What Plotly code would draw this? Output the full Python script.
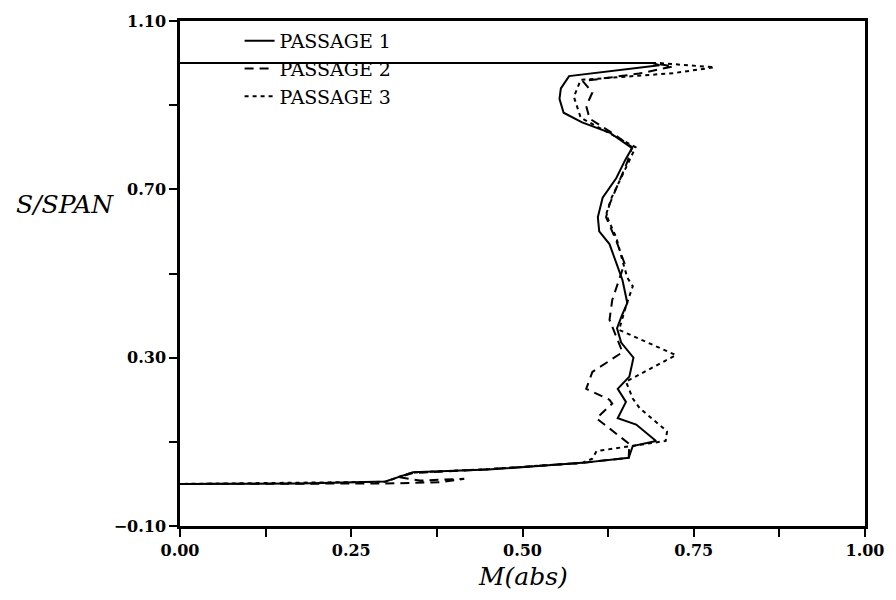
import plotly.graph_objects as go

# Passage 1 (solid)
p1_m = [0.0, 0.69, 0.70, 0.568, 0.556, 0.554, 0.56, 0.587, 0.627, 0.66, 0.650, 0.637, 0.617, 0.610,
        0.612, 0.627, 0.646, 0.653, 0.645, 0.638, 0.644, 0.662, 0.656, 0.639, 0.651, 0.639, 0.666,
        0.695, 0.661, 0.655, 0.587, 0.45, 0.34, 0.32, 0.30, 0.175, 0.0]
p1_s = [1.0, 1.0, 0.995, 0.969, 0.94, 0.915, 0.882, 0.859, 0.835, 0.798, 0.77, 0.727, 0.68, 0.634,
        0.60, 0.57, 0.484, 0.43, 0.40, 0.37, 0.336, 0.30, 0.255, 0.226, 0.195, 0.156, 0.141,
        0.102, 0.09, 0.062, 0.05, 0.034, 0.028, 0.017, 0.006, 0.001, 0.0]

# Passage 2 (long dashes)
p2_m = [0.0, 0.69, 0.72, 0.67, 0.588, 0.602, 0.593, 0.598, 0.63, 0.66, 0.653, 0.627, 0.622, 0.637,
        0.649, 0.631, 0.627, 0.646, 0.602, 0.593, 0.627, 0.631, 0.608, 0.656, 0.655, 0.587, 0.45,
        0.34, 0.32, 0.35, 0.415, 0.38, 0.30, 0.0]
p2_s = [1.0, 1.0, 0.992, 0.975, 0.957, 0.93, 0.898, 0.868, 0.835, 0.80, 0.765, 0.664, 0.634, 0.577,
        0.524, 0.437, 0.39, 0.313, 0.266, 0.226, 0.20, 0.191, 0.156, 0.095, 0.062, 0.05, 0.035,
        0.026, 0.016, 0.008, 0.012, 0.004, 0.001, 0.0]

# Passage 3 (short dashes)
p3_m = [0.0, 0.70, 0.78, 0.72, 0.585, 0.575, 0.585, 0.62, 0.665, 0.655, 0.63, 0.622, 0.637, 0.646,
        0.653, 0.661, 0.651, 0.641, 0.724, 0.651, 0.661, 0.671, 0.70, 0.711, 0.709, 0.656, 0.608,
        0.602, 0.587, 0.45, 0.34, 0.32, 0.30, 0.0]
p3_s = [1.0, 1.0, 0.99, 0.976, 0.96, 0.92, 0.87, 0.84, 0.80, 0.765, 0.68, 0.64, 0.585, 0.53,
        0.49, 0.47, 0.422, 0.366, 0.306, 0.243, 0.203, 0.18, 0.141, 0.125, 0.102, 0.09, 0.078,
        0.06, 0.05, 0.035, 0.027, 0.017, 0.005, 0.0]

names = ["PASSAGE 1", "PASSAGE 2", "PASSAGE 3"]

fig = go.Figure()
fig.add_trace(go.Scatter(x=p1_m, y=p1_s, mode="lines", name=names[0],
                         line=dict(color="black", width=2)))
fig.add_trace(go.Scatter(x=p2_m, y=p2_s, mode="lines", name=names[1],
                         line=dict(color="black", width=2, dash="9px,6px")))
fig.add_trace(go.Scatter(x=p3_m, y=p3_s, mode="lines", name=names[2],
                         line=dict(color="black", width=2, dash="4px,4px")))

serif = "DejaVu Serif"
axis_common = dict(showline=True, linecolor="black", linewidth=2.5, mirror=True,
                   ticks="outside", ticklen=8, tickwidth=2, tickcolor="black",
                   showgrid=False, zeroline=False,
                   tickfont=dict(family=serif, size=16, color="black", weight="bold"))

fig.update_xaxes(range=[0, 1], tick0=0, dtick=0.25, tickformat=".2f",
                 minor=dict(dtick=0.125, ticks="outside", ticklen=8, tickwidth=2,
                            tickcolor="black", showgrid=False),
                 **axis_common)
fig.update_yaxes(range=[-0.1, 1.1], tick0=-0.1, dtick=0.4, tickformat=".2f",
                 minor=dict(dtick=0.2, tick0=-0.1, ticks="outside", ticklen=8, tickwidth=2,
                            tickcolor="black", showgrid=False),
                 **axis_common)

fig.update_layout(
    width=896, height=600,
    margin=dict(l=180, r=30, t=14, b=74),
    plot_bgcolor="white", paper_bgcolor="white",
    showlegend=True,
    legend=dict(x=0.087, y=0.998, xanchor="left", yanchor="top",
                bgcolor="rgba(0,0,0,0)", font=dict(family=serif, size=19, color="black"),
                tracegroupgap=0),
    annotations=[
        dict(text="<i>S/SPAN</i>", xref="paper", yref="paper", x=-0.168, y=0.637,
             xanchor="center", yanchor="middle",
             showarrow=False, font=dict(family=serif, size=25, color="black")),
        dict(text="<i>M(abs)</i>", xref="paper", yref="paper", x=0.5, y=-0.10,
             xanchor="center", yanchor="middle",
             showarrow=False, font=dict(family=serif, size=25, color="black")),
    ],
)

fig.write_html("out.html")
